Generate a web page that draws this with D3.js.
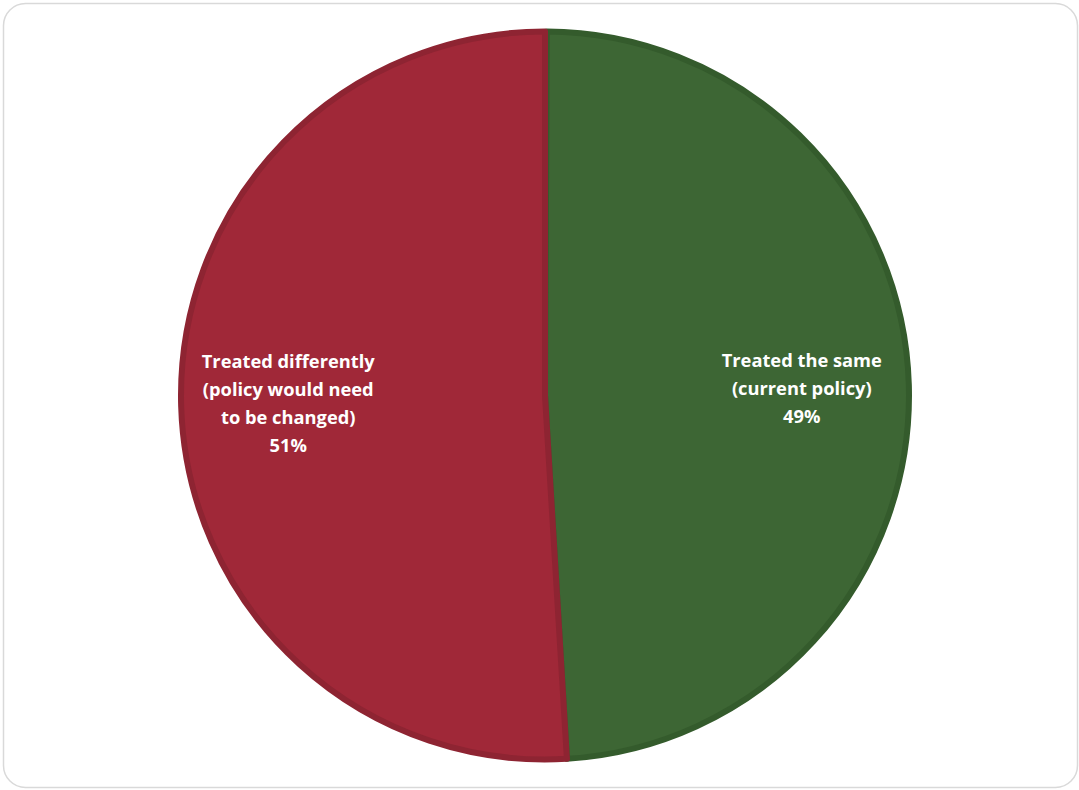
<!DOCTYPE html>
<html><head><meta charset="utf-8">
<script src="https://cdn.jsdelivr.net/npm/d3@7"></script>
<style>html,body{margin:0;padding:0;background:#fff;}</style>
</head><body>
<svg id="chart" width="1079" height="790"></svg>
<script>
const categories = ["Treated the same (current policy)", "Treated differently (policy would need to be changed)"];
const labelLines = [["Treated the same", "(current policy)"], ["Treated differently", "(policy would need", "to be changed)"]];
const values = [49, 51];
const fills = ["#3d6634", "#a02838"];
const strokes = ["#345b2c", "#8e2432"];

const svg = d3.select("#chart");
svg.append("rect").attr("x", 3.5).attr("y", 3.5).attr("width", 1074).attr("height", 784)
  .attr("rx", 22).attr("fill", "#fff").attr("stroke", "#d9d9d9").attr("stroke-width", 1.5);

const cx = 545, cy = 395.5, r = 367;
const data = values.map((v, i) => ({v, i}));
const pie = d3.pie().value(d => d.v).sort(null).startAngle(0.005);
const arcs = pie(data);
const arcOuter = d3.arc().innerRadius(0).outerRadius(r - 3);
const g = svg.append("g").attr("transform", `translate(${cx},${cy})`);
g.selectAll("path").data(arcs).join("path")
  .attr("d", arcOuter)
  .attr("fill", d => fills[d.data.i])
  .attr("stroke", d => strokes[d.data.i])
  .attr("stroke-width", 6)
  .attr("stroke-linejoin", "round");

const labelArc = d3.arc().innerRadius(r * 0.7).outerRadius(r * 0.7);
const lh = 28;
arcs.forEach(d => {
  const [x, y] = labelArc.centroid(d);
  const lines = labelLines[d.data.i].concat([d.data.v + "%"]);
  const n = lines.length;
  const t = g.append("text").attr("fill", "#fff")
    .attr("font-family", "'Open Sans', 'Noto Sans', sans-serif")
    .attr("font-weight", "bold").attr("font-size", 18.3)
    .attr("text-anchor", "middle");
  lines.forEach((ln, k) => {
    t.append("tspan").attr("x", x).attr("y", y + (k - (n - 1) / 2) * lh).attr("dy", "0.35em").text(ln);
  });
});
</script>
</body></html>
